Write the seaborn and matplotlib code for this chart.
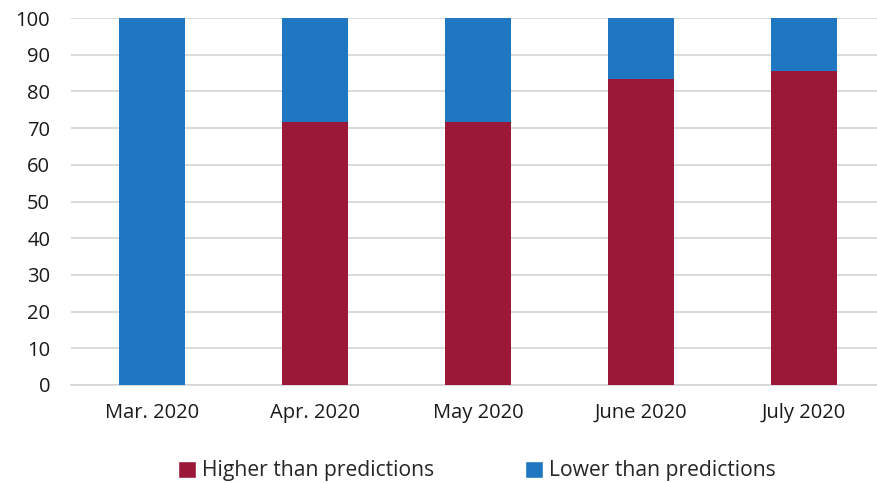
import matplotlib
matplotlib.use("Agg")
import matplotlib.pyplot as plt
import seaborn as sns
import pandas as pd
from matplotlib.patches import Patch

months = ["Mar. 2020", "Apr. 2020", "May 2020", "June 2020", "July 2020"]
higher = [0, 71.7, 71.7, 83.3, 85.5]
lower = [100, 28.3, 28.3, 16.7, 14.5]

red = "#9c1838"
blue = "#1f77c1"

df = pd.DataFrame({"month": months, "higher": higher, "lower": lower})
df["total"] = df["higher"] + df["lower"]

sns.set_style("white")
plt.rcParams["font.family"] = ["Open Sans", "DejaVu Sans"]

fig = plt.figure(figsize=(8.78, 4.83), dpi=100)
ax = fig.add_axes([71 / 878, 98 / 483, 814 / 878, 367 / 483])

# stacked: blue for the full height, red for the lower part
sns.barplot(data=df, x="month", y="total", color=blue, saturation=1, width=0.405, ax=ax, zorder=3)
sns.barplot(data=df, x="month", y="higher", color=red, saturation=1, width=0.405, ax=ax, zorder=4)
for p in ax.patches:
    p.set_edgecolor("none")

ax.set_xlim(-0.5, 4.5)
ax.set_ylim(0, 100)
ax.set_yticks(range(0, 101, 10))
ax.yaxis.grid(True, color="#d4d4d4", linewidth=1.2)
ax.set_axisbelow(True)
for s in ["top", "right", "left"]:
    ax.spines[s].set_visible(False)
ax.spines["bottom"].set_color("#d4d4d4")
ax.spines["bottom"].set_linewidth(1.2)
ax.tick_params(axis="both", length=0, labelsize=14.5, colors="#1a1a1a")
ax.tick_params(axis="y", pad=15)
ax.tick_params(axis="x", pad=13)
ax.set_xlabel("")
ax.set_ylabel("")

handles = [Patch(facecolor=red, label="Higher than predictions"),
           Patch(facecolor=blue, label="Lower than predictions")]
fig.legend(handles=handles, loc="center", bbox_to_anchor=(0.543, 0.025), ncol=2,
           frameon=False, fontsize=15.2, handlelength=0.85, handleheight=0.85,
           handletextpad=0.3, columnspacing=4.3)

fig.savefig("out.png", dpi=100)
